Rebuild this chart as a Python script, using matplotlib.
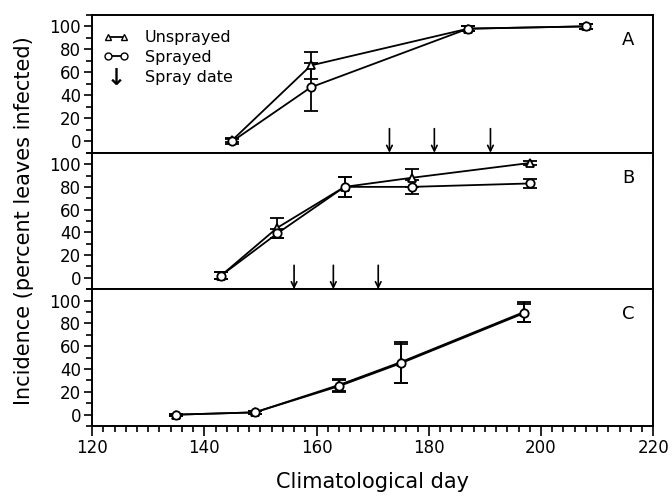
import numpy as np
import matplotlib.pyplot as plt
from matplotlib.lines import Line2D
from matplotlib.legend_handler import HandlerLine2D
from matplotlib.ticker import MultipleLocator

# panel A
a_days_u = [145, 159, 187, 208]
a_unspr = [1, 66, 98, 100]
a_unspr_err = [2, 12, 2, 2]
a_days_s = [145, 159, 187, 208]
a_spr = [0, 47, 98, 100]
a_spr_err = [2, 21, 2, 2]
a_spray = [173, 181, 191]

# panel B
b_days = [143, 153, 165, 177, 198]
b_unspr = [2, 44, 80, 88, 101]
b_unspr_err = [3, 9, 9, 8, 2]
b_spr = [2, 39, 80, 80, 83]
b_spr_err = [3, 4, 9, 6, 4]
b_spray = [156, 163, 171]

# panel C
c_days = [135, 149, 164, 175, 197]
c_unspr = [0, 2, 26, 46, 90]
c_unspr_err = [1, 1, 5, 18, 9]
c_spr = [0, 2, 25, 45, 89]
c_spr_err = [1, 1, 5, 17, 8]

fig = plt.figure(figsize=(6.72, 4.96), dpi=100)
L, R = 0.137, 0.972
tops = [0.970, 0.692, 0.417]
bots = [0.692, 0.417, 0.141]
axes = [fig.add_axes([L, b, R - L, t - b]) for t, b in zip(tops, bots)]

ekw = dict(color='black', lw=1.3, capsize=5, capthick=1.3, ms=6,
           mfc='white', mec='black', mew=1.3, elinewidth=1.3)

panels = [
    (a_days_u, a_unspr, a_unspr_err, a_days_s, a_spr, a_spr_err, a_spray, 'A'),
    (b_days, b_unspr, b_unspr_err, b_days, b_spr, b_spr_err, b_spray, 'B'),
    (c_days, c_unspr, c_unspr_err, c_days, c_spr, c_spr_err, [], 'C'),
]

for ax, (du, u, ue, ds, s, se, spray, lab) in zip(axes, panels):
    ax.errorbar(du, u, yerr=ue, marker='^', **ekw)
    ax.errorbar(ds, s, yerr=se, marker='o', **ekw)
    for d in spray:
        ax.annotate('', xy=(d, -10), xytext=(d, 11),
                    arrowprops=dict(arrowstyle='->', lw=1.2, color='black',
                                    shrinkA=0, shrinkB=0))
    ax.set_xlim(120, 220)
    ax.set_ylim(-10, 110)
    ax.set_yticks([0, 20, 40, 60, 80, 100])
    ax.yaxis.set_minor_locator(MultipleLocator(10))
    ax.xaxis.set_major_locator(MultipleLocator(20))
    ax.xaxis.set_minor_locator(MultipleLocator(2))
    ax.tick_params(axis='y', which='major', length=6, width=1.2, labelsize=12, pad=2)
    ax.tick_params(axis='y', which='minor', length=4, width=1.2)
    ax.tick_params(axis='x', which='major', length=7, width=1.2, labelsize=12, pad=2)
    ax.tick_params(axis='x', which='minor', length=4, width=1.2)
    for sp in ax.spines.values():
        sp.set_linewidth(1.4)
    ax.text(0.955, 0.78, lab, transform=ax.transAxes, fontsize=13, ha='center')
    if lab != 'C':
        ax.tick_params(axis='x', labelbottom=False)

h_u = Line2D([0], [0], color='black', marker='^', mfc='white', mec='black', ms=5, lw=1.3)
h_s = Line2D([0], [0], color='black', marker='o', mfc='white', mec='black', ms=5, lw=1.3)
h_a = Line2D([0], [0], color='black', marker='$\u2193$', ls='none', ms=12, mew=0.3)
axes[0].legend([h_u, h_s, h_a], ['Unsprayed', 'Sprayed', 'Spray date'], loc='upper left',
               frameon=False, fontsize=11.5, numpoints=2, handlelength=1.6,
               handler_map={h_a: HandlerLine2D(numpoints=1)},
               bbox_to_anchor=(0.0, 0.97),
               borderaxespad=0.3, labelspacing=0.3, handletextpad=1.0)

fig.text(0.035, 0.555, 'Incidence (percent leaves infected)', rotation=90,
         ha='center', va='center', fontsize=15)
fig.text(0.555, 0.016, 'Climatological day', ha='center', va='baseline', fontsize=15)

fig.savefig('out.png', dpi=100)
